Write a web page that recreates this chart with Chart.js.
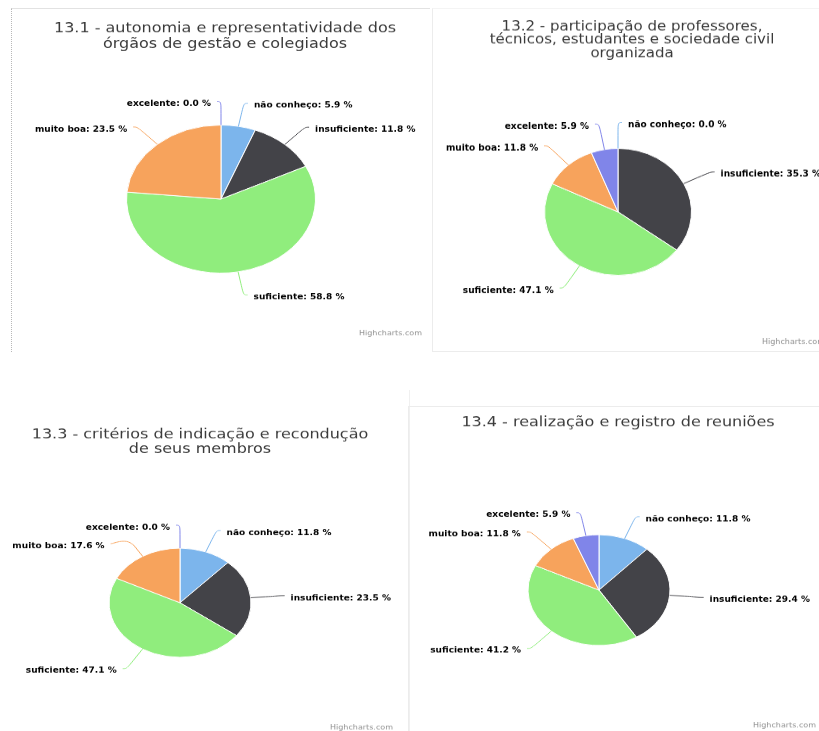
<!DOCTYPE html>
<html>
<head>
<meta charset="utf-8">
<script src="https://cdn.jsdelivr.net/npm/chart.js@4.4.1/dist/chart.umd.min.js"></script>
<style>
  html, body { margin: 0; padding: 0; background: #fff; }
  body { width: 819px; height: 731px; position: relative; overflow: hidden; font-family: "DejaVu Sans", sans-serif; }
  .frame { position: absolute; box-sizing: border-box; }
  .holder { position: absolute; transform-origin: 0 0; }
  .holder canvas { display: block; }
</style>
</head>
<body>
<div class="frame" style="left:11px;top:8px;width:419px;height:344px;border-top:1px solid #e2e2e2;border-left:1px dotted #b8b8b8;"></div>
<div class="frame" style="left:432px;top:8px;width:387px;height:344px;border-left:1px solid #ececec;border-bottom:1px solid #ececec;border-top:1px solid #f4f4f4;"></div>
<div class="frame" style="left:0;top:390px;width:410px;height:341px;border-right:1px solid #f0f0f0;"></div>
<div class="frame" style="left:408px;top:406px;width:411px;height:325px;border-top:1px solid #ececec;border-left:1px solid #ececec;"></div>

<div class="holder" id="h1"><canvas id="c1"></canvas></div>
<div class="holder" id="h2"><canvas id="c2"></canvas></div>
<div class="holder" id="h3"><canvas id="c3"></canvas></div>
<div class="holder" id="h4"><canvas id="c4"></canvas></div>

<script>
// categorias (mesma ordem em todos os gráficos)
const categories = ['não conheço', 'insuficiente', 'suficiente', 'muito boa', 'excelente'];

// percentuais de cada gráfico
const values131 = [5.9, 11.8, 58.8, 23.5, 0.0];
const values132 = [0.0, 35.3, 47.1, 11.8, 5.9];
const values133 = [11.8, 23.5, 47.1, 17.6, 0.0];
const values134 = [11.8, 29.4, 41.2, 11.8, 5.9];

// títulos
const title131 = ['13.1 - autonomia e representatividade dos', 'órgãos de gestão e colegiados'];
const title132 = ['13.2 - participação de professores,', 'técnicos, estudantes e sociedade civil', 'organizada'];
const title133 = ['13.3 - critérios de indicação e recondução', 'de seus membros'];
const title134 = ['13.4 - realização e registro de reuniões'];

const creditText = 'Highcharts.com';
const sliceColors = ['#7cb5ec', '#434348', '#90ed7d', '#f7a35c', '#8085e9'];

// texto com leve correção vertical (o canvas é achatado pelo scaleY)
function drawText(ctx, text, x, y, stretch) {
    ctx.save();
    ctx.translate(x, y);
    ctx.scale(1, stretch);
    ctx.fillText(text, 0, 0);
    ctx.restore();
}

// rótulos externos com conectores (estilo Highcharts) + título + créditos
const pieLabels = {
    id: 'pieLabels',
    afterDraw(chart, args, opts) {
        const ctx = chart.ctx;
        const arcs = chart.getDatasetMeta(0).data;
        const values = chart.data.datasets[0].data;
        if (!arcs.length) return;
        const cx = arcs[0].x, cy = arcs[0].y, r = arcs[0].outerRadius;
        const dist = opts.distance;
        const R = r + dist;

        const items = arcs.map((arc, i) => {
            const m = (arc.startAngle + arc.endAngle) / 2;
            return {
                i: i,
                m: m,
                left: m > Math.PI / 2,
                y: cy + Math.sin(m) * R,
                text: chart.data.labels[i] + ': ' + values[i].toFixed(1) + ' %'
            };
        });

        // evita sobreposição em cada lado
        [true, false].forEach(side => {
            const group = items.filter(it => it.left === side).sort((a, b) => a.y - b.y);
            for (let k = 1; k < group.length; k++) {
                if (group[k].y < group[k - 1].y + opts.spacing) {
                    group[k].y = group[k - 1].y + opts.spacing;
                }
            }
        });

        ctx.save();
        ctx.lineWidth = 1;
        ctx.font = 'bold 9px "DejaVu Sans"';
        ctx.textBaseline = 'middle';
        items.forEach(it => {
            const s = it.left ? -1 : 1;
            const dy = it.y - cy;
            const xc = Math.sqrt(Math.max(R * R - dy * dy, 0));
            const lx = cx + s * xc;
            const ex = cx + Math.cos(it.m) * r, ey = cy + Math.sin(it.m) * r;
            const bx = cx + Math.cos(it.m) * (r + dist / 2), by = cy + Math.sin(it.m) * (r + dist / 2);

            ctx.strokeStyle = sliceColors[it.i];
            ctx.beginPath();
            ctx.moveTo(lx + s * 4, it.y);
            ctx.bezierCurveTo(lx, it.y, 2 * bx - ex, 2 * by - ey, bx, by);
            ctx.lineTo(ex, ey);
            ctx.stroke();

            ctx.fillStyle = '#000';
            ctx.textAlign = it.left ? 'right' : 'left';
            drawText(ctx, it.text, lx + s * 10, it.y + opts.textShift, 1.15);
        });

        // título
        ctx.fillStyle = '#3a3a3a';
        ctx.textAlign = 'center';
        ctx.font = opts.titleSize + 'px "DejaVu Sans"';
        opts.title.forEach((line, k) => {
            drawText(ctx, line, opts.titleX, opts.titleY + k * opts.titleGap, 1.05);
        });

        // créditos
        ctx.fillStyle = '#909090';
        ctx.textAlign = 'right';
        ctx.font = '8px "DejaVu Sans"';
        ctx.fillText(creditText, opts.creditX, opts.creditY);
        ctx.restore();
    }
};

// posição de cada painel: left/top/width/height na tela, sy = achatamento vertical
const panels = [
    { id: 1, values: values131, title: title131, left: 11, top: 8, w: 419, h: 344, sy: 0.783,
      cx: 210, cy: 244, r: 94.5, titleX: 214, titleY: 27, titleGap: 19.2, titleSize: 16,
      creditX: 411, creditY: 416 },
    { id: 2, values: values132, title: title132, left: 433, top: 8, w: 386, h: 343, sy: 0.864,
      cx: 185, cy: 236, r: 73.5, titleX: 199, titleY: 22, titleGap: 15.4, titleSize: 15,
      creditX: 392, creditY: 387 },
    { id: 3, values: values133, title: title133, left: 0, top: 390, w: 409, h: 341, sy: 0.768,
      cx: 180, cy: 277, r: 71, titleX: 200, titleY: 59, titleGap: 18.6, titleSize: 16,
      creditX: 393, creditY: 440 },
    { id: 4, values: values134, title: title134, left: 408, top: 406, w: 411, h: 325, sy: 0.78,
      cx: 191, cy: 236, r: 71, titleX: 210, titleY: 21.5, titleGap: 19, titleSize: 16,
      creditX: 408, creditY: 410 }
];

panels.forEach(p => {
    const hl = Math.round(p.h / p.sy);
    const holder = document.getElementById('h' + p.id);
    holder.style.left = p.left + 'px';
    holder.style.top = p.top + 'px';
    holder.style.width = p.w + 'px';
    holder.style.height = hl + 'px';
    holder.style.transform = 'scaleY(' + p.sy + ')';

    const canvas = document.getElementById('c' + p.id);
    canvas.width = p.w;
    canvas.height = hl;

    new Chart(canvas, {
        type: 'pie',
        data: {
            labels: categories,
            datasets: [{
                data: p.values,
                backgroundColor: sliceColors,
                borderColor: '#ffffff',
                borderWidth: 1,
                hoverOffset: 0,
                radius: p.r
            }]
        },
        options: {
            responsive: false,
            animation: false,
            layout: {
                padding: {
                    left: p.cx - p.r,
                    right: p.w - p.cx - p.r,
                    top: p.cy - p.r,
                    bottom: hl - p.cy - p.r
                }
            },
            plugins: {
                legend: { display: false },
                tooltip: { enabled: false },
                title: { display: false },
                pieLabels: {
                    distance: 30,
                    spacing: 24,
                    textShift: 3,
                    title: p.title,
                    titleX: p.titleX,
                    titleY: p.titleY,
                    titleGap: p.titleGap,
                    titleSize: p.titleSize,
                    creditX: p.creditX,
                    creditY: p.creditY
                }
            }
        },
        plugins: [pieLabels]
    });
});
</script>
</body>
</html>
